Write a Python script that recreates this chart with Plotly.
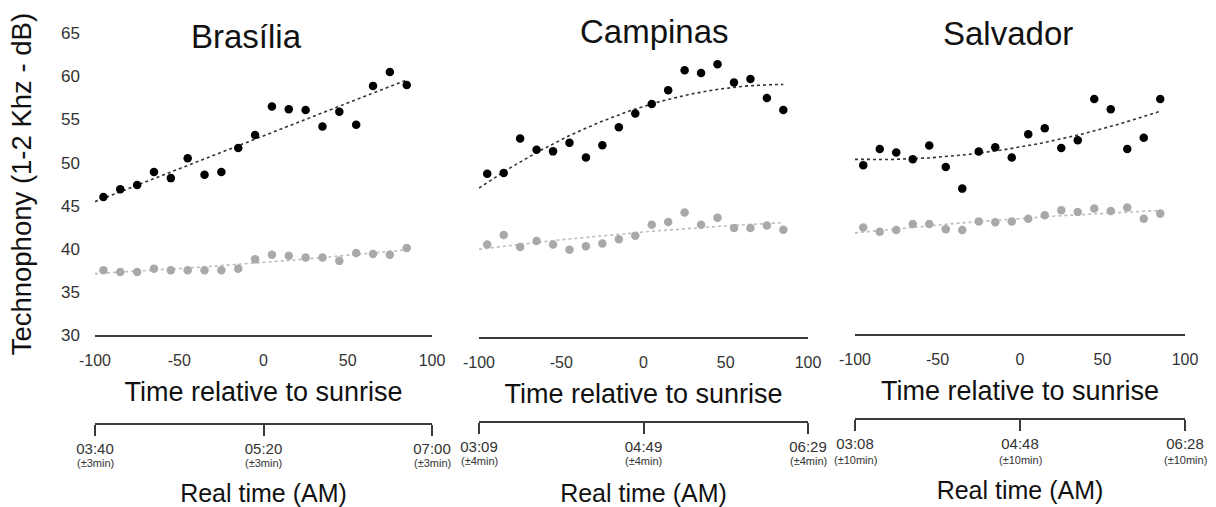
import numpy as np
import plotly.graph_objects as go

# ---------------- data ----------------
time_rel = [-95, -85, -75, -65, -55, -45, -35, -25, -15, -5, 5, 15, 25, 35, 45, 55, 65, 75, 85]
cities = ["Brasília", "Campinas", "Salvador"]

bras_black = [46.0, 46.9, 47.4, 48.9, 48.2, 50.5, 48.6, 48.9, 51.7, 53.2,
              56.5, 56.2, 56.1, 54.2, 55.9, 54.4, 58.9, 60.5, 59.0]
bras_grey = [37.5, 37.3, 37.3, 37.7, 37.5, 37.5, 37.5, 37.5, 37.7, 38.8,
             39.3, 39.2, 39.0, 39.0, 38.6, 39.5, 39.4, 39.3, 40.1]
camp_black = [48.9, 49.0, 53.0, 51.7, 51.5, 52.5, 50.8, 52.2, 54.3, 55.9,
              57.0, 58.6, 60.9, 60.6, 61.6, 59.5, 59.9, 57.7, 56.3]
camp_grey = [40.7, 41.8, 40.4, 41.1, 40.7, 40.1, 40.5, 40.8, 41.3, 41.7,
             43.0, 43.3, 44.4, 43.0, 43.8, 42.6, 42.6, 42.9, 42.4]
salv_black = [49.6, 51.5, 51.1, 50.3, 51.9, 49.4, 46.9, 51.2, 51.7, 50.5,
              53.2, 53.9, 51.6, 52.5, 57.3, 56.1, 51.5, 52.8, 57.3]
salv_grey = [42.4, 41.9, 42.1, 42.8, 42.8, 42.2, 42.1, 43.1, 43.0, 43.1,
             43.4, 43.8, 44.4, 44.2, 44.6, 44.3, 44.7, 43.4, 44.0]

x_tick_vals = [-100, -50, 0, 50, 100]
x_tick_text = ["-100", "-50", "0", "50", "100"]
y_tick_vals = [30, 35, 40, 45, 50, 55, 60, 65]
real_tick_pos = [-100, 0, 100]
real_tick_times = [["03:40", "05:20", "07:00"],
                   ["03:09", "04:49", "06:29"],
                   ["03:08", "04:48", "06:28"]]
real_tick_err = ["(±3min)", "(±4min)", "(±10min)"]

black_series = [bras_black, camp_black, salv_black]
grey_series = [bras_grey, camp_grey, salv_grey]

# ---------------- layout geometry (pixels) ----------------
W, H = 1216, 507
x_px = [(95, 432), (479, 808), (855, 1185)]
y_px = [(33.3, 335.0), (35.0, 336.7), (32.6, 334.3)]   # (top of 65, bottom of 30)
real_px = [424, 422, 419]                              # real-time axis line
err_px = [463, 460.5, 459.5]                           # centre of (±min) text
title_px = [(246, 36), (654, 32), (1008, 33)]

FONT = "Liberation Sans, Arial, sans-serif"

fig = go.Figure()

t = np.array(time_rel, dtype=float)
grid = np.linspace(-100, 85, 120)

for i in range(3):
    xa = "x" if i == 0 else f"x{i+1}"
    ya = "y" if i == 0 else f"y{i+1}"
    for series, col, lcol in [(grey_series[i], "#a9a9a9", "#bcbcbc"),
                              (black_series[i], "#000000", "#333333")]:
        coef = np.polyfit(t, np.array(series), 2)
        fig.add_trace(go.Scatter(x=grid, y=np.polyval(coef, grid), mode="lines",
                                 line=dict(color=lcol, width=1.6, dash="dot"),
                                 xaxis=xa, yaxis=ya, showlegend=False, hoverinfo="skip"))
        fig.add_trace(go.Scatter(x=time_rel, y=series, mode="markers",
                                 marker=dict(color=col, size=8.5),
                                 xaxis=xa, yaxis=ya, showlegend=False))
    # placeholder trace for the real-time axis
    fig.add_trace(go.Scatter(x=[-100, 100], y=[30, 30], mode="none",
                             xaxis=f"x{i+4}", yaxis=ya, showlegend=False, hoverinfo="skip"))

layout = dict(width=W, height=H, margin=dict(l=0, r=0, t=0, b=0),
              paper_bgcolor="white", plot_bgcolor="rgba(0,0,0,0)",
              font=dict(family=FONT, color="#222"), showlegend=False)

for i in range(3):
    xk = "xaxis" if i == 0 else f"xaxis{i+1}"
    yk = "yaxis" if i == 0 else f"yaxis{i+1}"
    ya = "y" if i == 0 else f"y{i+1}"
    xa = "x" if i == 0 else f"x{i+1}"
    xd = [x_px[i][0] / W, x_px[i][1] / W]
    yd = [1 - y_px[i][1] / H, 1 - y_px[i][0] / H]
    layout[xk] = dict(domain=xd, range=[-100, 100], anchor=ya,
                      showline=True, linecolor="#3a3a3a", linewidth=1.6,
                      showgrid=False, zeroline=False, ticks="",
                      tickvals=x_tick_vals, ticktext=x_tick_text, ticklabelstandoff=10,
                      tickfont=dict(family=FONT, size=16, color="#333"),
                      title=dict(text="Time relative to sunrise", standoff=14,
                                 font=dict(family=FONT, size=27, color="#111")),
                      automargin=False, fixedrange=True)
    ydict = dict(domain=yd, range=[30, 65], anchor=xa,
                 showline=False, showgrid=False, zeroline=False, ticks="",
                 tickvals=y_tick_vals, automargin=False, fixedrange=True)
    if i == 0:
        ydict.update(showticklabels=True, ticklabelstandoff=14,
                     tickfont=dict(family=FONT, size=17, color="#333"),
                     title=dict(text="Technophony (1-2 Khz - dB)", standoff=21,
                                font=dict(family=FONT, size=27.5, color="#111")))
    else:
        ydict.update(showticklabels=False)
    layout[yk] = ydict

    # real-time axis
    rk = f"xaxis{i+4}"
    layout[rk] = dict(domain=xd, range=[-100, 100], anchor="free",
                      position=1 - real_px[i] / H,
                      showline=True, linecolor="#3a3a3a", linewidth=1.6,
                      showgrid=False, zeroline=False,
                      ticks="outside", ticklen=11, tickwidth=1.6, tickcolor="#3a3a3a",
                      tickvals=real_tick_pos, ticktext=real_tick_times[i],
                      ticklabelstandoff=0,
                      tickfont=dict(family=FONT, size=15, color="#333"),
                      title=dict(text="Real time (AM)", standoff=30,
                                 font=dict(family=FONT, size=25, color="#111")),
                      automargin=False, fixedrange=True)

fig.update_layout(**layout)

for i, name in enumerate(cities):
    fig.add_annotation(text=name, x=title_px[i][0] / W, y=1 - title_px[i][1] / H,
                       xref="paper", yref="paper", showarrow=False,
                       xanchor="center", yanchor="middle",
                       font=dict(family=FONT, size=33, color="#111"))
    for p in real_tick_pos:
        fig.add_annotation(text=real_tick_err[i], x=p, xref=f"x{i+4}",
                           y=1 - err_px[i] / H, yref="paper", showarrow=False,
                           xanchor="center", yanchor="middle",
                           font=dict(family=FONT, size=11, color="#333"))

fig.write_html("out.html", config={"displayModeBar": False},
               post_script="document.body.style.margin='0';")
